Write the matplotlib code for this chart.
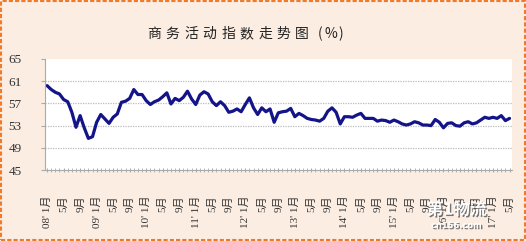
import matplotlib
matplotlib.use("Agg")
from matplotlib import pyplot as plt
import matplotlib.patheffects as pe
from matplotlib.patches import Rectangle

# monthly index, Jan 2008 .. May 2017
values = [
    60.2, 59.5, 59.0, 58.7, 57.7, 57.3, 55.4, 52.7, 54.8, 52.6, 50.7, 51.0,   # 2008
    53.6, 55.0, 54.2, 53.4, 54.5, 55.1, 57.2, 57.4, 57.9, 59.5, 58.6, 58.6,   # 2009
    57.5, 56.8, 57.3, 57.6, 58.2, 58.9, 56.9, 57.9, 57.5, 58.1, 59.2, 57.8,   # 2010
    56.8, 58.5, 59.1, 58.7, 57.3, 56.6, 57.3, 56.6, 55.4, 55.6, 56.0, 55.5,   # 2011
    56.8, 58.0, 56.2, 55.0, 56.2, 55.5, 56.0, 53.6, 55.3, 55.5, 55.6, 56.1,   # 2012
    54.6, 55.2, 54.8, 54.3, 54.1, 54.0, 53.8, 54.3, 55.6, 56.2, 55.4, 53.3,   # 2013
    54.6, 54.6, 54.5, 54.9, 55.2, 54.3, 54.3, 54.3, 53.8, 54.0, 53.9, 53.6,   # 2014
    54.0, 53.7, 53.3, 53.1, 53.3, 53.7, 53.5, 53.1, 53.1, 53.0, 54.1, 53.6,   # 2015
    52.6, 53.4, 53.5, 53.0, 52.9, 53.5, 53.7, 53.3, 53.5, 54.0, 54.5, 54.3,   # 2016
    54.5, 54.3, 54.8, 53.9, 54.3,                                             # 2017
]
years = ["08'", "09'", "10'", "11'", "12'", "13'", "14'", "15'", "16'", "17'"]
y_ticks = [45, 49, 53, 57, 61, 65]
title_chars = list("商务活动指数走势图") + ["(", "%", ")"]

months = list(range(len(values)))
tick_pos = months[::4]
tick_labels = []
for m in tick_pos:
    mon = m % 12 + 1
    if mon == 1:
        tick_labels.append(years[m // 12] + " 1月")
    else:
        tick_labels.append("%d月" % mon)

fonts = ['Liberation Serif', 'Noto Sans CJK SC', 'DejaVu Sans']

fig = plt.figure(figsize=(5.26, 2.41), dpi=100)
fig.patch.set_facecolor('#FBEDE2')
fig.patches.append(Rectangle((0.002, 0.004), 0.996, 0.992, transform=fig.transFigure,
                             fill=False, edgecolor='#F07A2A', linewidth=1.5, linestyle=(0, (2, 1))))

ax = fig.add_axes([0.0856, 0.2946, 0.8878, 0.4606])
ax.set_facecolor('white')
ax.plot(months, values, color='#14148A', linewidth=2.3, solid_capstyle='round')

ax.set_xlim(-0.5, 112.6)
ax.set_ylim(45, 65)
ax.set_yticks(y_ticks)
ax.set_yticklabels([str(v) for v in y_ticks], family=fonts, fontsize=9.5, color='#333333')
for v in y_ticks[1:-1]:
    ax.axhline(v, color='#BBBBBB', linewidth=0.9, linestyle=(0, (1, 1)), zorder=0)

ax.set_xticks(tick_pos)
ax.set_xticklabels(tick_labels, rotation=90, family=fonts, fontsize=8, color='#333333',
                   va='top', ha='center')
ax.set_xticks(months, minor=True)
ax.tick_params(axis='x', which='both', length=3, direction='inout', color='#AAAAAA', pad=17)
ax.tick_params(axis='y', length=3, color='#AAAAAA', pad=14)

for s in ['top', 'right']:
    ax.spines[s].set_visible(False)
ax.spines['left'].set_color('#AAAAAA')
ax.spines['left'].set_linewidth(0.8)
ax.spines['bottom'].set_color('#AAAAAA')
ax.spines['bottom'].set_linestyle((0, (1, 1)))
ax.spines['bottom'].set_linewidth(0.8)

# title with wide letter spacing
x0, step = 154, 18.5
pos = x0
for ch in title_chars:
    fig.text(pos / 526, 1 - 34 / 241, ch, ha='center', va='center', fontsize=10,
             family=['Noto Sans CJK SC', 'DejaVu Sans'], color='#222222')
    pos += step if ch not in "(%" else 10

# watermark
shadow = [pe.withSimplePatchShadow(offset=(1, -1), shadow_rgbFace='#555555', alpha=0.8)]
fig.text(0.868, 0.13, "第1物流", ha='center', va='center', fontsize=12, fontweight='bold',
         family=['Noto Sans CJK SC'], color='white', path_effects=shadow)
fig.text(0.868, 0.065, "cn156.com", ha='center', va='center', fontsize=6, fontweight='bold',
         family=['DejaVu Sans'], color='white', path_effects=shadow)

fig.savefig('out.png', dpi=100, facecolor=fig.get_facecolor())
